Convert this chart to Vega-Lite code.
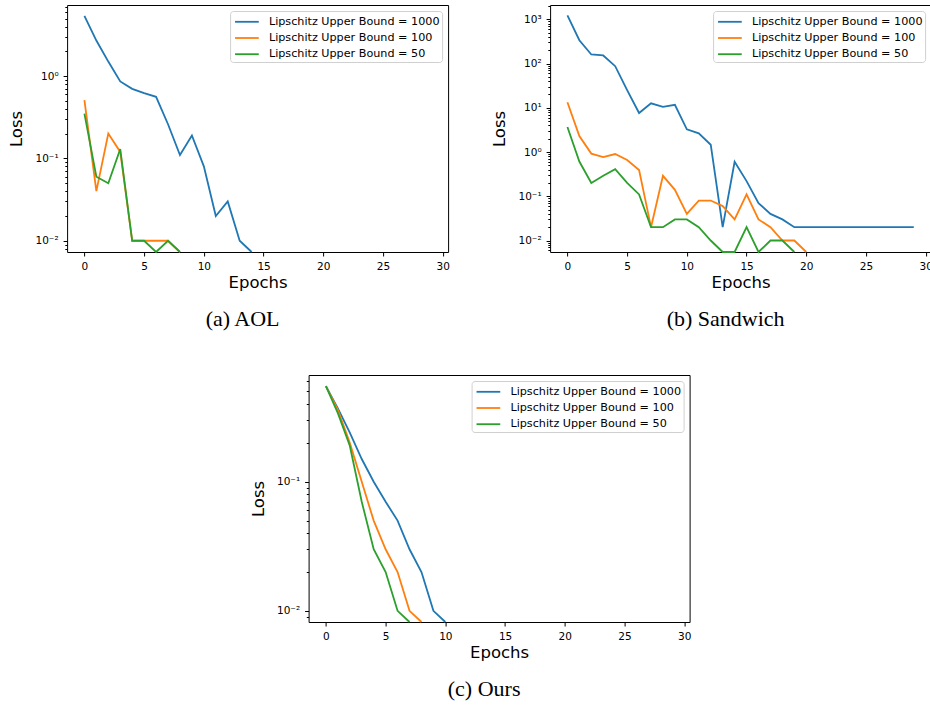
{
  "$schema": "https://vega.github.io/schema/vega-lite/v6.json",
  "padding": {"left": 8, "top": 0, "right": 0, "bottom": 0},
  "background": "white",
  "datasets": {
    "aol": [
      {"bound": "1000", "epoch": 0, "loss": 5.4},
      {"bound": "1000", "epoch": 1, "loss": 2.7},
      {"bound": "1000", "epoch": 2, "loss": 1.5},
      {"bound": "1000", "epoch": 3, "loss": 0.86},
      {"bound": "1000", "epoch": 4, "loss": 0.7},
      {"bound": "1000", "epoch": 5, "loss": 0.62},
      {"bound": "1000", "epoch": 6, "loss": 0.56},
      {"bound": "1000", "epoch": 7, "loss": 0.26},
      {"bound": "1000", "epoch": 8, "loss": 0.11},
      {"bound": "1000", "epoch": 9, "loss": 0.19},
      {"bound": "1000", "epoch": 10, "loss": 0.08},
      {"bound": "1000", "epoch": 11, "loss": 0.02},
      {"bound": "1000", "epoch": 12, "loss": 0.03},
      {"bound": "1000", "epoch": 13, "loss": 0.01},
      {"bound": "1000", "epoch": 14, "loss": 0},
      {"bound": "100", "epoch": 0, "loss": 0.51},
      {"bound": "100", "epoch": 1, "loss": 0.04},
      {"bound": "100", "epoch": 2, "loss": 0.2},
      {"bound": "100", "epoch": 3, "loss": 0.12},
      {"bound": "100", "epoch": 4, "loss": 0.01},
      {"bound": "100", "epoch": 5, "loss": 0.01},
      {"bound": "100", "epoch": 6, "loss": 0.01},
      {"bound": "100", "epoch": 7, "loss": 0.01},
      {"bound": "100", "epoch": 8, "loss": 0},
      {"bound": "50", "epoch": 0, "loss": 0.35},
      {"bound": "50", "epoch": 1, "loss": 0.06},
      {"bound": "50", "epoch": 2, "loss": 0.05},
      {"bound": "50", "epoch": 3, "loss": 0.13},
      {"bound": "50", "epoch": 4, "loss": 0.01},
      {"bound": "50", "epoch": 5, "loss": 0.01},
      {"bound": "50", "epoch": 6, "loss": 0},
      {"bound": "50", "epoch": 7, "loss": 0.01},
      {"bound": "50", "epoch": 8, "loss": 0}
    ],
    "sandwich": [
      {"bound": "1000", "epoch": 0, "loss": 1230},
      {"bound": "1000", "epoch": 1, "loss": 336},
      {"bound": "1000", "epoch": 2, "loss": 160},
      {"bound": "1000", "epoch": 3, "loss": 152},
      {"bound": "1000", "epoch": 4, "loss": 87},
      {"bound": "1000", "epoch": 5, "loss": 25},
      {"bound": "1000", "epoch": 6, "loss": 7.6},
      {"bound": "1000", "epoch": 7, "loss": 12.6},
      {"bound": "1000", "epoch": 8, "loss": 10.5},
      {"bound": "1000", "epoch": 9, "loss": 11.7},
      {"bound": "1000", "epoch": 10, "loss": 3.25},
      {"bound": "1000", "epoch": 11, "loss": 2.64},
      {"bound": "1000", "epoch": 12, "loss": 1.46},
      {"bound": "1000", "epoch": 13, "loss": 0.02},
      {"bound": "1000", "epoch": 14, "loss": 0.6},
      {"bound": "1000", "epoch": 15, "loss": 0.22},
      {"bound": "1000", "epoch": 16, "loss": 0.07},
      {"bound": "1000", "epoch": 17, "loss": 0.04},
      {"bound": "1000", "epoch": 18, "loss": 0.03},
      {"bound": "1000", "epoch": 19, "loss": 0.02},
      {"bound": "1000", "epoch": 20, "loss": 0.02},
      {"bound": "1000", "epoch": 21, "loss": 0.02},
      {"bound": "1000", "epoch": 22, "loss": 0.02},
      {"bound": "1000", "epoch": 23, "loss": 0.02},
      {"bound": "1000", "epoch": 24, "loss": 0.02},
      {"bound": "1000", "epoch": 25, "loss": 0.02},
      {"bound": "1000", "epoch": 26, "loss": 0.02},
      {"bound": "1000", "epoch": 27, "loss": 0.02},
      {"bound": "1000", "epoch": 28, "loss": 0.02},
      {"bound": "1000", "epoch": 29, "loss": 0.02},
      {"bound": "100", "epoch": 0, "loss": 13.3},
      {"bound": "100", "epoch": 1, "loss": 2.3},
      {"bound": "100", "epoch": 2, "loss": 0.92},
      {"bound": "100", "epoch": 3, "loss": 0.77},
      {"bound": "100", "epoch": 4, "loss": 0.9},
      {"bound": "100", "epoch": 5, "loss": 0.66},
      {"bound": "100", "epoch": 6, "loss": 0.39},
      {"bound": "100", "epoch": 7, "loss": 0.02},
      {"bound": "100", "epoch": 8, "loss": 0.29},
      {"bound": "100", "epoch": 9, "loss": 0.14},
      {"bound": "100", "epoch": 10, "loss": 0.04},
      {"bound": "100", "epoch": 11, "loss": 0.08},
      {"bound": "100", "epoch": 12, "loss": 0.08},
      {"bound": "100", "epoch": 13, "loss": 0.06},
      {"bound": "100", "epoch": 14, "loss": 0.03},
      {"bound": "100", "epoch": 15, "loss": 0.11},
      {"bound": "100", "epoch": 16, "loss": 0.03},
      {"bound": "100", "epoch": 17, "loss": 0.02},
      {"bound": "100", "epoch": 18, "loss": 0.01},
      {"bound": "100", "epoch": 19, "loss": 0.01},
      {"bound": "100", "epoch": 20, "loss": 0},
      {"bound": "50", "epoch": 0, "loss": 3.67},
      {"bound": "50", "epoch": 1, "loss": 0.61},
      {"bound": "50", "epoch": 2, "loss": 0.2},
      {"bound": "50", "epoch": 3, "loss": 0.29},
      {"bound": "50", "epoch": 4, "loss": 0.41},
      {"bound": "50", "epoch": 5, "loss": 0.2},
      {"bound": "50", "epoch": 6, "loss": 0.11},
      {"bound": "50", "epoch": 7, "loss": 0.02},
      {"bound": "50", "epoch": 8, "loss": 0.02},
      {"bound": "50", "epoch": 9, "loss": 0.03},
      {"bound": "50", "epoch": 10, "loss": 0.03},
      {"bound": "50", "epoch": 11, "loss": 0.02},
      {"bound": "50", "epoch": 12, "loss": 0.01},
      {"bound": "50", "epoch": 13, "loss": 0},
      {"bound": "50", "epoch": 14, "loss": 0},
      {"bound": "50", "epoch": 15, "loss": 0.02},
      {"bound": "50", "epoch": 16, "loss": 0},
      {"bound": "50", "epoch": 17, "loss": 0.01},
      {"bound": "50", "epoch": 18, "loss": 0.01},
      {"bound": "50", "epoch": 19, "loss": 0}
    ],
    "ours": [
      {"bound": "1000", "epoch": 0, "loss": 0.55},
      {"bound": "1000", "epoch": 1, "loss": 0.37},
      {"bound": "1000", "epoch": 2, "loss": 0.24},
      {"bound": "1000", "epoch": 3, "loss": 0.15},
      {"bound": "1000", "epoch": 4, "loss": 0.1},
      {"bound": "1000", "epoch": 5, "loss": 0.07},
      {"bound": "1000", "epoch": 6, "loss": 0.05},
      {"bound": "1000", "epoch": 7, "loss": 0.03},
      {"bound": "1000", "epoch": 8, "loss": 0.02},
      {"bound": "1000", "epoch": 9, "loss": 0.01},
      {"bound": "1000", "epoch": 10, "loss": 0},
      {"bound": "100", "epoch": 0, "loss": 0.55},
      {"bound": "100", "epoch": 1, "loss": 0.36},
      {"bound": "100", "epoch": 2, "loss": 0.2},
      {"bound": "100", "epoch": 3, "loss": 0.1},
      {"bound": "100", "epoch": 4, "loss": 0.05},
      {"bound": "100", "epoch": 5, "loss": 0.03},
      {"bound": "100", "epoch": 6, "loss": 0.02},
      {"bound": "100", "epoch": 7, "loss": 0.01},
      {"bound": "100", "epoch": 8, "loss": 0},
      {"bound": "50", "epoch": 0, "loss": 0.55},
      {"bound": "50", "epoch": 1, "loss": 0.34},
      {"bound": "50", "epoch": 2, "loss": 0.19},
      {"bound": "50", "epoch": 3, "loss": 0.07},
      {"bound": "50", "epoch": 4, "loss": 0.03},
      {"bound": "50", "epoch": 5, "loss": 0.02},
      {"bound": "50", "epoch": 6, "loss": 0.01},
      {"bound": "50", "epoch": 7, "loss": 0}
    ]
  },
  "config": {
    "view": {"stroke": "black", "strokeWidth": 1},
    "font": "DejaVu Sans",
    "axis": {
      "domain": false, "grid": false, "tickColor": "black", "tickWidth": 1,
      "labelColor": "black", "labelFont": "DejaVu Sans", "labelFontSize": 10.5,
      "titleFont": "DejaVu Sans", "titleFontSize": 16.5, "titleFontWeight": "normal", "titleColor": "black",
      "labelOverlap": false
    },
    "axisX": {"tickSize": 4, "labelPadding": 5, "titlePadding": 3},
    "axisY": {"labelPadding": 5, "titlePadding": 10},
    "legend": {
      "orient": "top-right", "offset": 6, "title": null,
      "symbolType": "M-1.5,0H1.5", "symbolSize": 250, "symbolStrokeWidth": 2, "symbolOffset": 6,
      "labelFont": "DejaVu Sans", "labelFontSize": 11.2, "labelColor": "black", "labelOffset": 13, "labelLimit": 400,
      "fillColor": "white", "strokeColor": "#d0d0d0", "cornerRadius": 3, "padding": 1.8, "rowPadding": 1.2
    },
    "title": {
      "font": "Liberation Serif", "fontSize": 22, "fontWeight": "normal", "color": "black",
      "orient": "bottom", "anchor": "middle", "dx": -15, "offset": 18, "baseline": "alphabetic"
    },
    "line": {"strokeWidth": 1.8, "clip": true}
  },
  "center": true,
  "spacing": 43,
  "resolve": {"scale": {"color": "independent"}, "legend": {"color": "independent"}},
  "vconcat": [
    {
      "spacing": 41,
      "resolve": {"scale": {"color": "independent"}, "legend": {"color": "independent"}},
      "hconcat": [
        {
          "width": 381, "height": 247,
          "title": {"text": "(a) AOL"},
          "data": {"name": "aol"},
          "mark": {"type": "line"},
          "encoding": {
            "x": {"field": "epoch", "type": "quantitative", "scale": {"domain": [-1.45, 30.45], "nice": false, "zero": false}, "axis": {"values": [0, 5, 10, 15, 20, 25, 30], "title": "Epochs"}},
            "y": {"field": "loss", "type": "quantitative", "scale": {"type": "log", "domain": [0.0073, 7.3], "nice": false, "clamp": true},
              "axis": {"title": "Loss",
                "values": [0.008, 0.009, 0.01, 0.02, 0.03, 0.04, 0.05, 0.06, 0.07, 0.08, 0.09, 0.1, 0.2, 0.3, 0.4, 0.5, 0.6, 0.7, 0.8, 0.9, 1, 2, 3, 4, 5, 6, 7],
                "tickSize": {"condition": {"test": "abs(log(datum.value)/LN10 - round(log(datum.value)/LN10)) < 0.001", "value": 4}, "value": 2.3},
                "labelExpr": "abs(log(datum.value)/LN10 - round(log(datum.value)/LN10)) < 0.001 ? '10' + (datum.value < 0.5 ? '⁻' : '') + ['⁰','¹','²','³'][abs(round(log(datum.value)/LN10))] : ''"}},
            "color": {"field": "bound", "type": "nominal", "scale": {"domain": ["1000", "100", "50"], "range": ["#1f77b4", "#ff7f0e", "#2ca02c"]},
              "legend": {"labelExpr": "'Lipschitz Upper Bound = ' + datum.label"}}
          }
        },
        {
          "width": 381, "height": 247,
          "title": {"text": "(b) Sandwich"},
          "data": {"name": "sandwich"},
          "mark": {"type": "line"},
          "encoding": {
            "x": {"field": "epoch", "type": "quantitative", "scale": {"domain": [-1.45, 30.45], "nice": false, "zero": false}, "axis": {"values": [0, 5, 10, 15, 20, 25, 30], "title": "Epochs"}},
            "y": {"field": "loss", "type": "quantitative", "scale": {"type": "log", "domain": [0.0055, 2100], "nice": false, "clamp": true},
              "axis": {"title": "Loss",
                "values": [0.006, 0.007, 0.008, 0.009, 0.01, 0.02, 0.03, 0.04, 0.05, 0.06, 0.07, 0.08, 0.09, 0.1, 0.2, 0.3, 0.4, 0.5, 0.6, 0.7, 0.8, 0.9, 1, 2, 3, 4, 5, 6, 7, 8, 9, 10, 20, 30, 40, 50, 60, 70, 80, 90, 100, 200, 300, 400, 500, 600, 700, 800, 900, 1000, 2000],
                "tickSize": {"condition": {"test": "abs(log(datum.value)/LN10 - round(log(datum.value)/LN10)) < 0.001", "value": 4}, "value": 2.3},
                "labelExpr": "abs(log(datum.value)/LN10 - round(log(datum.value)/LN10)) < 0.001 ? '10' + (datum.value < 0.5 ? '⁻' : '') + ['⁰','¹','²','³'][abs(round(log(datum.value)/LN10))] : ''"}},
            "color": {"field": "bound", "type": "nominal", "scale": {"domain": ["1000", "100", "50"], "range": ["#1f77b4", "#ff7f0e", "#2ca02c"]},
              "legend": {"labelExpr": "'Lipschitz Upper Bound = ' + datum.label"}}
          }
        }
      ]
    },
    {
      "width": 381, "height": 247,
      "title": {"text": "(c) Ours"},
      "data": {"name": "ours"},
      "mark": {"type": "line"},
      "encoding": {
        "x": {"field": "epoch", "type": "quantitative", "scale": {"domain": [-1.45, 30.45], "nice": false, "zero": false}, "axis": {"values": [0, 5, 10, 15, 20, 25, 30], "title": "Epochs"}},
        "y": {"field": "loss", "type": "quantitative", "scale": {"type": "log", "domain": [0.0082, 0.671], "nice": false, "clamp": true},
          "axis": {"title": "Loss",
            "values": [0.009, 0.01, 0.02, 0.03, 0.04, 0.05, 0.06, 0.07, 0.08, 0.09, 0.1, 0.2, 0.3, 0.4, 0.5, 0.6],
            "tickSize": {"condition": {"test": "abs(log(datum.value)/LN10 - round(log(datum.value)/LN10)) < 0.001", "value": 4}, "value": 2.3},
            "labelExpr": "abs(log(datum.value)/LN10 - round(log(datum.value)/LN10)) < 0.001 ? '10' + (datum.value < 0.5 ? '⁻' : '') + ['⁰','¹','²','³'][abs(round(log(datum.value)/LN10))] : ''"}},
        "color": {"field": "bound", "type": "nominal", "scale": {"domain": ["1000", "100", "50"], "range": ["#1f77b4", "#ff7f0e", "#2ca02c"]},
          "legend": {"labelExpr": "'Lipschitz Upper Bound = ' + datum.label"}}
      }
    }
  ]
}
